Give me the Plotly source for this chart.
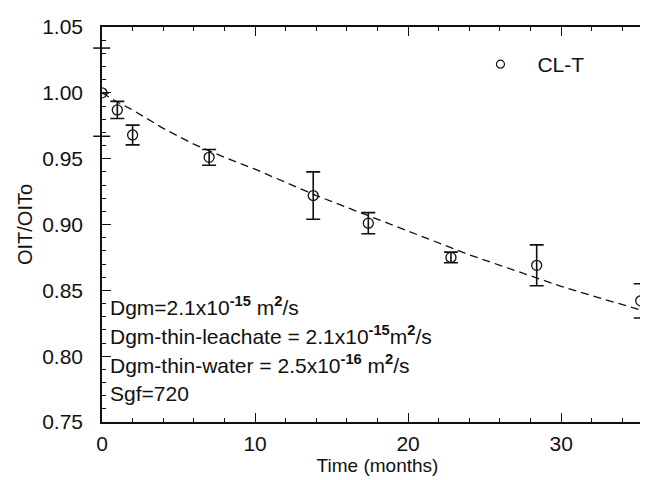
import plotly.graph_objects as go

# measured data
months = [0, 1, 2, 7, 13.8, 17.4, 22.8, 28.4, 35.2]
oit_ratio = [1.000, 0.987, 0.968, 0.951, 0.922, 0.901, 0.875, 0.869, 0.842]
oit_err = [0, 0.0065, 0.0075, 0.006, 0.018, 0.008, 0.004, 0.0155, 0.013]

# model prediction curve
fit_months = [0, 1, 2, 4, 6, 8, 10, 12, 14, 16, 18, 20, 22, 24, 26, 28, 30, 32, 34, 35.2]
fit_ratio = [1.000, 0.993, 0.987, 0.973, 0.961, 0.951, 0.942, 0.932, 0.922, 0.913,
             0.904, 0.895, 0.886, 0.877, 0.869, 0.861, 0.853, 0.846, 0.839, 0.835]

x_ticks = [0, 10, 20, 30]
y_ticks = [0.75, 0.80, 0.85, 0.90, 0.95, 1.00, 1.05]

series_name = "CL-T"
note_lines = [
    "Dgm=2.1x10<sup><b>-15</b></sup> m<sup><b>2</b></sup>/s",
    "Dgm-thin-leachate = 2.1x10<sup><b>-15</b></sup>m<sup><b>2</b></sup>/s",
    "Dgm-thin-water = 2.5x10<sup><b>-16</b></sup> m<sup><b>2</b></sup>/s",
    "Sgf=720",
]

FONT = "Liberation Sans, Arial, sans-serif"
INK = "#111111"

fig = go.Figure()

fig.add_trace(go.Scatter(
    x=fit_months, y=fit_ratio, mode="lines",
    line=dict(color=INK, width=1.3, dash="8px,5px"),
    showlegend=False, hoverinfo="skip",
))

fig.add_trace(go.Scatter(
    x=months, y=oit_ratio, mode="markers",
    marker=dict(symbol="circle-open", size=10, color=INK, line=dict(width=1.3, color=INK)),
    error_y=dict(type="data", array=oit_err, visible=True, color=INK, thickness=1.6, width=7),
    showlegend=False,
))

# legend-only entry (smaller symbol as in the reference legend)
fig.add_trace(go.Scatter(
    x=[None], y=[None], mode="markers", name=series_name,
    marker=dict(symbol="circle-open", size=8, color=INK, line=dict(width=1.2, color=INK)),
))

axis_common = dict(
    showline=True, linecolor=INK, linewidth=1.5, mirror="allticks",
    ticks="inside", tickcolor=INK, tickwidth=1.3, ticklen=9,
    showgrid=False, zeroline=False,
    tickfont=dict(family=FONT, size=21, color=INK),
)

fig.update_xaxes(
    range=[0, 36], tickvals=x_ticks,
    minor=dict(dtick=2, ticks="inside", ticklen=4, tickcolor=INK, tickwidth=1.3),
    title=dict(text="Time (months)", font=dict(family=FONT, size=19, color=INK), standoff=3),
    ticklabelstandoff=2,
    **axis_common,
)
fig.update_yaxes(
    range=[0.75, 1.05], tickvals=y_ticks, tickformat=".2f",
    minor=dict(dtick=0.01, ticks="inside", ticklen=4, tickcolor=INK, tickwidth=1.3),
    title=dict(text="OIT/OITo", font=dict(family=FONT, size=20, color=INK), standoff=4),
    ticklabelstandoff=13,
    **axis_common,
)

# small crossing marks on the left axis (secondary scale remnants)
for yv in [1.034, 0.967]:
    fig.add_shape(type="line", xref="paper", yref="y", x0=-0.016, x1=0.015, y0=yv, y1=yv,
                  line=dict(color=INK, width=1.5))

for i, txt in enumerate(note_lines):
    fig.add_annotation(
        xref="paper", yref="paper", x=0.011, y=(414 - 298 - 29 * i) / 395,
        xanchor="left", yanchor="middle", showarrow=False, align="left",
        text=txt, font=dict(family=FONT, size=21, color=INK),
    )

fig.update_layout(
    width=648, height=480,
    margin=dict(l=94, r=1, t=19, b=66),
    paper_bgcolor="white", plot_bgcolor="white",
    legend=dict(x=0.656, y=0.905, xanchor="left", yanchor="middle",
                font=dict(family=FONT, size=21, color=INK),
                bgcolor="rgba(0,0,0,0)", itemwidth=64),
    font=dict(family=FONT, color=INK),
)

fig.write_html("out.html")
